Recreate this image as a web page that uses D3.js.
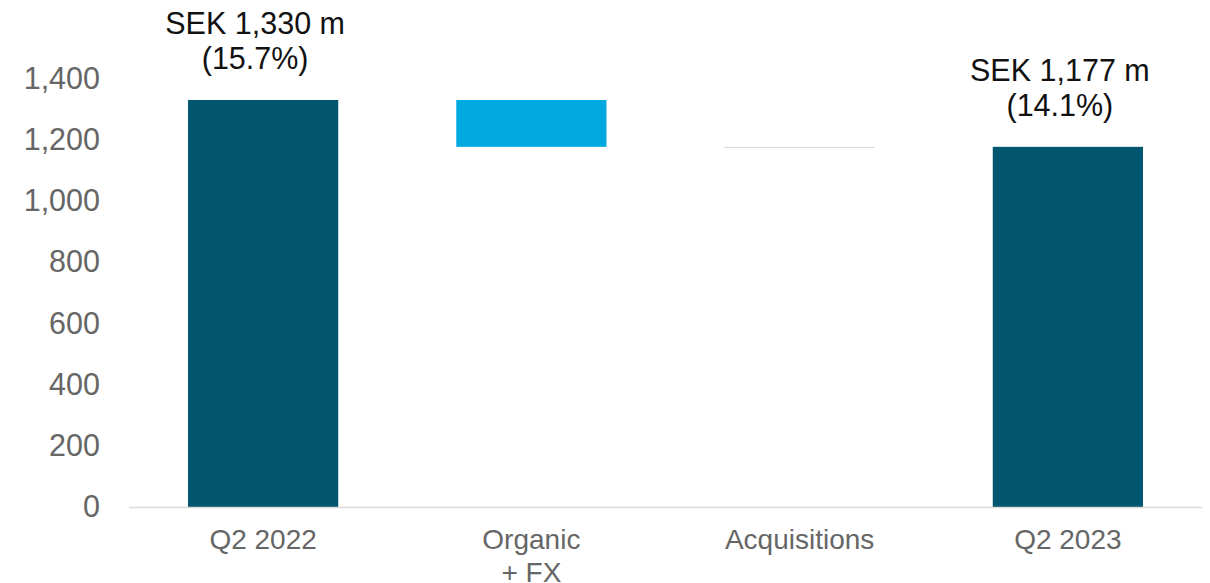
<!DOCTYPE html>
<html>
<head>
<meta charset="utf-8">
<script src="https://cdn.jsdelivr.net/npm/d3@7"></script>
<style>
  html, body { margin: 0; padding: 0; background: #fff; }
  svg { display: block; font-family: "Liberation Sans", Arial, sans-serif; }
</style>
</head>
<body>
<svg id="chart" width="1210" height="583"></svg>
<script>
// Bridge of operating result, SEK million
const categories = ["Q2 2022", "Organic\n+ FX", "Acquisitions", "Q2 2023"];
const kinds = ["total", "delta", "delta", "total"];
const values = [1330, -153, 0, 1177];
const totalLabels = ["SEK 1,330 m", "(15.7%)"];
const endLabels = ["SEK 1,177 m", "(14.1%)"];
const yTicks = [0, 200, 400, 600, 800, 1000, 1200, 1400];

const svg = d3.select("#chart");
const x0 = 129, x1 = 1202, yBase = 507, yTop = 78.6;

const x = d3.scaleBand().domain(categories).range([x0, x1])
  .paddingInner(0.44).paddingOuter(0.22);
const y = d3.scaleLinear().domain([0, 1400]).range([yBase, yTop]);

// running cumulative levels for the bridge
let level = 0;
const bars = categories.map((c, i) => {
  let lo, hi;
  if (kinds[i] === "total") { lo = 0; hi = values[i]; level = values[i]; }
  else { const start = level; level = start + values[i]; lo = Math.min(start, level); hi = Math.max(start, level); }
  return { c, kind: kinds[i], v: values[i], lo, hi };
});

// y axis labels
const yAxis = d3.axisLeft(y).tickValues(yTicks).tickSize(0).tickPadding(29)
  .tickFormat(d3.format(","));
const gy = svg.append("g").attr("transform", `translate(${x0},0)`).call(yAxis);
gy.select(".domain").remove();
gy.selectAll("text").attr("fill", "#666").style("font-size", "30.5px")
  .attr("font-family", "Liberation Sans, Arial, sans-serif");

// bars
bars.forEach(b => {
  if (b.kind === "delta" && b.v === 0) {
    svg.append("line")
      .attr("x1", x(b.c)).attr("x2", x(b.c) + x.bandwidth())
      .attr("y1", Math.round(y(b.hi)) + 0.5).attr("y2", Math.round(y(b.hi)) + 0.5)
      .attr("stroke", "#d9d9d9").attr("stroke-width", 1);
  } else {
    svg.append("rect")
      .attr("x", x(b.c)).attr("width", x.bandwidth())
      .attr("y", y(b.hi)).attr("height", y(b.lo) - y(b.hi))
      .attr("fill", b.kind === "total" ? "#02566f" : "#00a9e0");
  }
});

// baseline
svg.append("line").attr("x1", x0).attr("x2", x1)
  .attr("y1", yBase + 0.5).attr("y2", yBase + 0.5)
  .attr("stroke", "#d9d9d9").attr("stroke-width", 1.5);

// x axis labels
categories.forEach(c => {
  const lines = c.split("\n");
  const t = svg.append("text").attr("text-anchor", "middle")
    .attr("fill", "#666").style("font-size", "28px");
  lines.forEach((ln, k) => {
    t.append("tspan").attr("x", x(c) + x.bandwidth() / 2)
      .attr("y", 549 + k * 33).text(ln);
  });
});

// value annotations above the two totals
[[0, totalLabels], [3, endLabels]].forEach(([i, lab]) => {
  const b = bars[i];
  const cx = x(b.c) + x.bandwidth() / 2 - 8;
  const top = y(b.hi);
  const t = svg.append("text").attr("text-anchor", "middle")
    .attr("fill", "#111").style("font-size", "30.5px");
  t.append("tspan").attr("x", cx).attr("y", top - 66).text(lab[0]);
  t.append("tspan").attr("x", cx).attr("y", top - 31).text(lab[1]);
});
</script>
</body>
</html>
